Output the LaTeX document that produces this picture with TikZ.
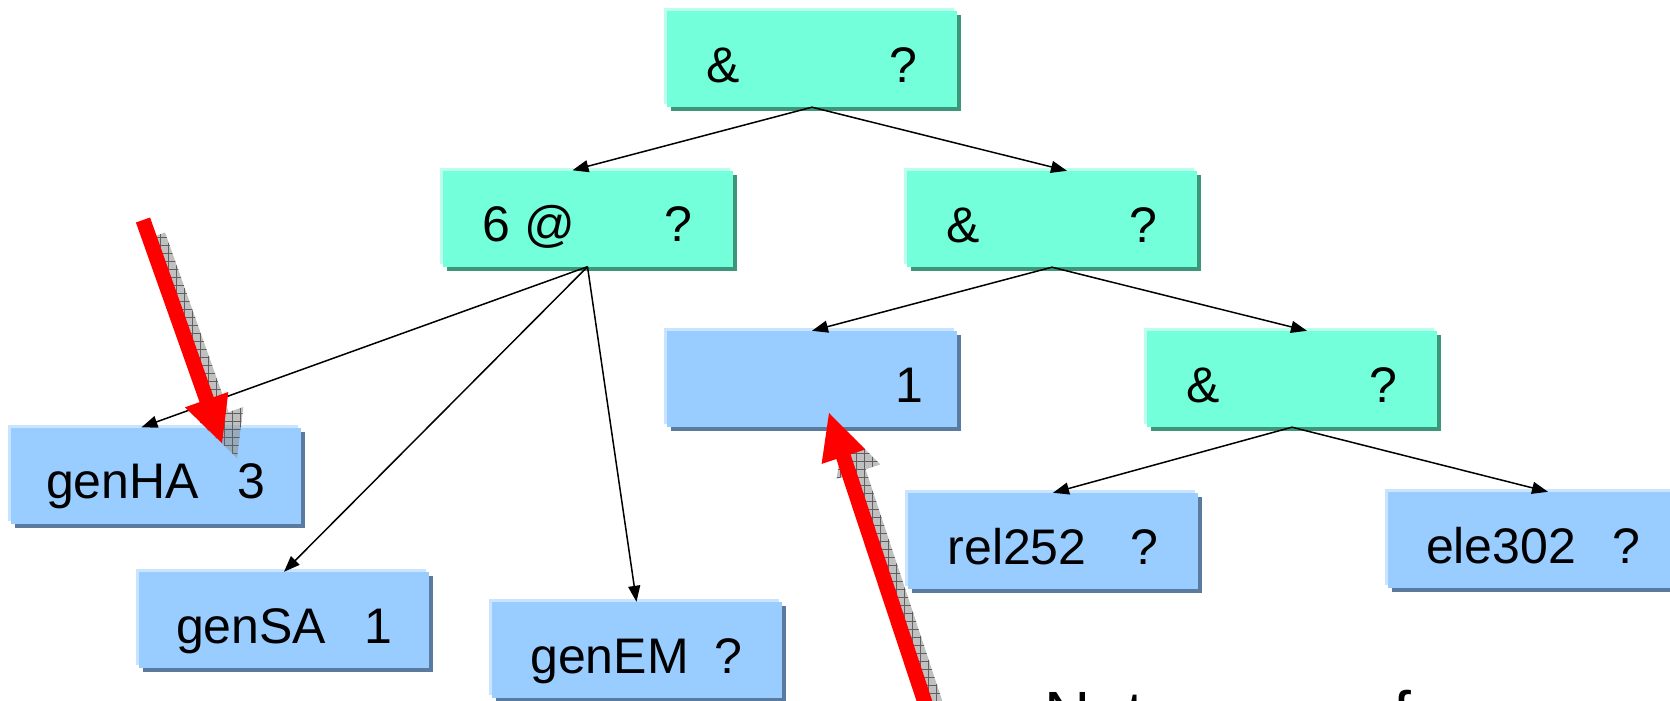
\documentclass[tikz,border=0pt]{standalone}
\usepackage{fontspec}
\setmainfont{Liberation Sans}
\usetikzlibrary{arrows.meta,shadows,calc,patterns.meta}
\definecolor{cyanfill}{RGB}{115,255,217}
\definecolor{cyanhi}{RGB}{185,255,236}
\definecolor{cyanshadow}{RGB}{62,150,122}
\definecolor{bluefill}{RGB}{153,204,255}
\definecolor{bluehi}{RGB}{200,228,255}
\definecolor{blueshadow}{RGB}{90,122,158}
\definecolor{shadowgray}{RGB}{150,150,150}
\newcommand\myarrowpath[2]{%
  ($(#1)!7.5pt!90:(#2)$) -- ($($(#2)!46pt!(#1)$)!7.5pt!90:(#2)$) --
  ($($(#2)!46pt!(#1)$)!23pt!90:(#2)$) -- (#2) --
  ($($(#2)!46pt!(#1)$)!23pt!-90:(#2)$) -- ($($(#2)!46pt!(#1)$)!7.5pt!-90:(#2)$) --
  ($(#1)!7.5pt!-90:(#2)$) -- cycle}
\newcommand\myredarrow[2]{%
  \begin{scope}[transform canvas={shift={(15pt,-15pt)}}]
    \fill[shadowgray, fill opacity=0.6] \myarrowpath{#1}{#2};
    \fill[pattern={Hatch[angle=0,distance=8pt,line width=0.6pt]}, pattern color=gray!75!black, fill opacity=0.5] \myarrowpath{#1}{#2};
  \end{scope}
  \fill[red] \myarrowpath{#1}{#2};}
\tikzset{
  box/.style={minimum width=290pt, minimum height=96pt, inner sep=0pt,
    text height=46pt, text depth=0pt, font=\fontsize{50}{60}\selectfont},
  cyanbox/.style={box, fill=cyanfill,
    general shadow={shadow xshift=4pt, shadow yshift=-4pt, fill=cyanshadow},
    general shadow={shadow xshift=-3pt, shadow yshift=3pt, fill=cyanhi}},
  bluebox/.style={box, fill=bluefill,
    general shadow={shadow xshift=4pt, shadow yshift=-4pt, fill=blueshadow},
    general shadow={shadow xshift=-3pt, shadow yshift=3pt, fill=bluehi}},
  conn/.style={-{Triangle[length=16pt,width=12pt]}, line width=1.5pt, black},
}
\begin{document}
\begin{tikzpicture}[x=1pt,y=-1pt]
\useasboundingbox (0,0) rectangle (1670,701);
\clip (0,0) rectangle (1670,701);
% nodes
\node[cyanbox] (root) at (812,59) {\&\hspace{150pt}?};
\node[cyanbox] (n6) at (587.5,218.5) {6 @\hspace{90pt}?};
\node[cyanbox] (nA2) at (1052,219) {\&\hspace{150pt}?};
\node[bluebox] (n1) at (812,379) {\hspace{194pt}1};
\node[cyanbox] (nA3) at (1292,379) {\&\hspace{150pt}?};
\node[bluebox] (genHA) at (155.5,475.5) {genHA\hspace{38pt}3};
\node[bluebox] (genSA) at (284,620) {genSA\hspace{38pt}1};
\node[bluebox] (genEM) at (636.5,650) {genEM\hspace{26pt}?};
\node[bluebox] (rel252) at (1053,541) {rel252\hspace{44pt}?};
\node[bluebox] (ele302) at (1533,540) {ele302\hspace{36pt}?};
% connectors
\draw[conn] (root.south) -- ([xshift=-15pt]n6.north);
\draw[conn] (root.south) -- ([xshift=15pt]nA2.north);
\draw[conn] (n6.south) -- ([xshift=-14pt]genHA.north);
\draw[conn] (n6.south) -- (genSA.north);
\draw[conn] (n6.south) -- (genEM.north);
\draw[conn] (nA2.south) -- (n1.north);
\draw[conn] (nA2.south) -- ([xshift=15pt]nA3.north);
\draw[conn] (nA3.south) -- (rel252.north);
\draw[conn] (nA3.south) -- ([xshift=15pt]ele302.north);
% bottom text (cut by the edge)
\node[anchor=base west, inner sep=0pt, font=\fontsize{64}{70}\selectfont] (note) at (1044,736) {Not\hspace{250pt}f};
% red arrows
\coordinate (r1s) at (143,220);
\coordinate (r1t) at (222,443);
\coordinate (r2s) at (934,730);
\coordinate (r2t) at (829,413);
\myredarrow{r1s}{r1t}
\myredarrow{r2s}{r2t}
\end{tikzpicture}
\end{document}
